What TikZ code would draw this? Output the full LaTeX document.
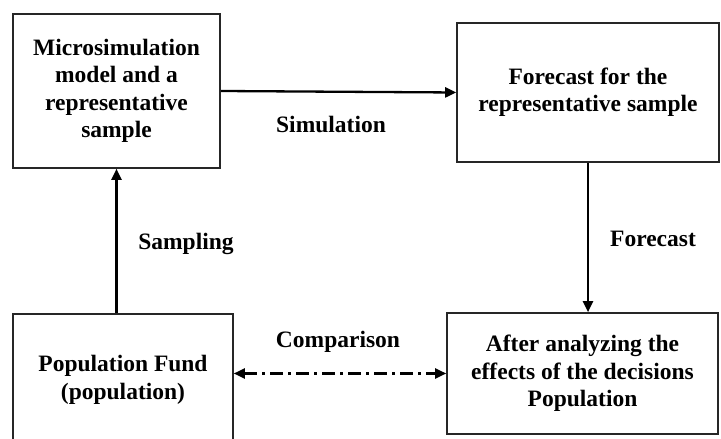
\documentclass[tikz,border=0pt]{standalone}
\usepackage{fontspec}
\setmainfont{Liberation Serif}
\usetikzlibrary{arrows.meta}
\begin{document}
\begin{tikzpicture}[x=1pt,y=1pt,
  box/.style={draw=black!85, line width=1.6pt, inner sep=0pt, align=center,
    font=\fontsize{23.5}{27.4}\selectfont\bfseries},
  lbl/.style={anchor=base, inner sep=0pt, font=\fontsize{23.5}{27.4}\selectfont\bfseries},
  conn/.style={line width=2.3pt, -{Triangle[length=11pt,width=10pt]}},
  dconn/.style={line width=2.2pt, {Triangle[length=11pt,width=10pt]}-{Triangle[length=11pt,width=10pt]},
    dash pattern=on 13pt off 5pt on 3pt off 5pt}]
\useasboundingbox (0,0) rectangle (721,439);
\fill[white] (0,0) rectangle (721,439);
\node[box, minimum width=207pt, minimum height=154pt] (A) at (116.5,348)
  {Microsimulation\\model and a\\representative\\sample};
\node[box, minimum width=262pt, minimum height=139pt] (B) at (588,346.5)
  {Forecast for the\\representative sample};
\node[box, minimum width=220pt, minimum height=132pt] (C) at (123,59)
  {Population Fund\\(population)};
\node[box, minimum width=271pt, minimum height=121pt] (D) at (582.5,65.5)
  {After analyzing the\\effects of the decisions\\Population};
\draw[conn] (A.east) -- (B.west);
\draw[conn] (B.south) -- (B.south |- D.north);
\draw[conn] (A.south |- C.north) -- (A.south);
\draw[dconn] (D.west -| C.east) -- (D.west);
\node[lbl] (sim) at (331,306) {Simulation};
\node[lbl] (samp) at (186,189) {Sampling};
\node[lbl] (fc) at (653,192) {Forecast};
\node[lbl] (cmp) at (338,91) {Comparison};
\end{tikzpicture}
\end{document}
